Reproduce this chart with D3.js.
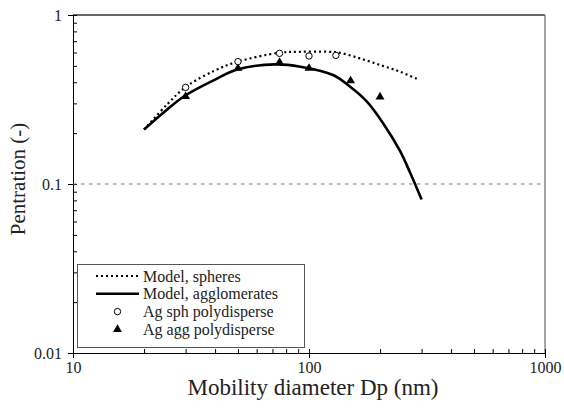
<!DOCTYPE html>
<html>
<head>
<meta charset="UTF-8">
<script src="https://d3js.org/d3.v7.min.js"></script>
<style>
  body { margin: 0; background: #fff; }
</style>
</head>
<body>
<div id="chart"></div>
<script>
// Model curves (Dp in nm, penetration)
const sphDpModel = [20, 25, 30, 40, 50, 75, 92, 120, 135, 164, 200, 243, 290];
const sphPModel  = [0.21, 0.295, 0.375, 0.47, 0.53, 0.598, 0.606, 0.606, 0.598, 0.554, 0.506, 0.462, 0.416];
const aggDpModel = [20, 25, 30, 40, 50, 72, 92, 127, 149, 176, 206, 243, 268, 300];
const aggPModel  = [0.21, 0.275, 0.335, 0.415, 0.477, 0.51, 0.494, 0.44, 0.377, 0.307, 0.229, 0.157, 0.117, 0.081];

// Measured points
const sphDp = [30, 50, 75, 100, 130];
const sphP  = [0.373, 0.53, 0.593, 0.572, 0.577];
const aggDp = [30, 50, 75, 100, 150, 200];
const aggP  = [0.33, 0.484, 0.525, 0.484, 0.408, 0.328];

const xMajor = [10, 100, 1000];
const yMajor = [0.01, 0.1, 1];
const legendLabels = ["Model, spheres", "Model, agglomerates", "Ag sph polydisperse", "Ag agg polydisperse"];

const FONT = '"Liberation Serif"';
const W = 564, H = 414;
const mLeft = 73, mRight = 545, mTop = 15, mBottom = 353;

const svg = d3.select("#chart").append("svg")
  .attr("width", W).attr("height", H);

const x = d3.scaleLog().domain([10, 1000]).range([mLeft, mRight]);
const y = d3.scaleLog().domain([0.01, 1]).range([mBottom, mTop]);

// minor ticks
const xAll = [];
[10, 100].forEach(b => { for (let i = 1; i <= 10; i++) xAll.push(b * i); });
const yAll = [];
[0.01, 0.1].forEach(b => { for (let i = 1; i <= 10; i++) yAll.push(+(b * i).toFixed(3)); });

// frame top / right
svg.append("line").attr("x1", mLeft).attr("x2", mRight).attr("y1", mTop).attr("y2", mTop)
  .attr("stroke", "#333").attr("stroke-width", 1.5);
svg.append("line").attr("x1", mRight).attr("x2", mRight).attr("y1", mTop).attr("y2", mBottom)
  .attr("stroke", "#888").attr("stroke-width", 1.5);

// x axis: outward major ticks with labels, inward all ticks
svg.append("g").attr("transform", `translate(0,${mBottom})`)
  .call(d3.axisBottom(x).tickValues(xMajor).tickSize(5).tickPadding(4).tickFormat(d3.format("d")))
  .call(g => g.selectAll("text").style("font-family", FONT).style("font-size", "16px").attr("fill", "#222"));
svg.append("g").attr("transform", `translate(0,${mBottom})`)
  .call(d3.axisTop(x).tickValues(xAll).tickSize(4).tickFormat(""))
  .select(".domain").remove();

// y axis
svg.append("g").attr("transform", `translate(${mLeft},0)`)
  .call(d3.axisLeft(y).tickValues(yMajor).tickSize(5).tickPadding(6).tickFormat(d => String(d)))
  .call(g => g.selectAll("text").style("font-family", FONT).style("font-size", "16px").attr("fill", "#222"));
svg.append("g").attr("transform", `translate(${mLeft},0)`)
  .call(d3.axisRight(y).tickValues(yAll).tickSize(4).tickFormat(""))
  .select(".domain").remove();

svg.selectAll(".domain").attr("stroke", "#000");

// reference line at 0.1
svg.append("line")
  .attr("x1", mLeft).attr("x2", mRight).attr("y1", y(0.1)).attr("y2", y(0.1))
  .attr("stroke", "#777").attr("stroke-width", 1.2).attr("stroke-dasharray", "3.5 4.5");

const line = d3.line().x(d => x(d[0])).y(d => y(d[1])).curve(d3.curveCatmullRom.alpha(0.5));

svg.append("path").datum(sphDpModel.map((d, i) => [d, sphPModel[i]]))
  .attr("d", line).attr("fill", "none").attr("stroke", "#000")
  .attr("stroke-width", 2.2).attr("stroke-dasharray", "2 3");
svg.append("path").datum(aggDpModel.map((d, i) => [d, aggPModel[i]]))
  .attr("d", line).attr("fill", "none").attr("stroke", "#000").attr("stroke-width", 2.6);

const tri = d3.symbol().type(d3.symbolTriangle).size(34);

svg.selectAll(".agg").data(aggDp.map((d, i) => [d, aggP[i]])).enter()
  .append("path").attr("class", "agg")
  .attr("transform", d => `translate(${x(d[0])},${y(d[1])})`)
  .attr("d", tri).attr("fill", "#000");

svg.selectAll(".sph").data(sphDp.map((d, i) => [d, sphP[i]])).enter()
  .append("circle").attr("class", "sph")
  .attr("cx", d => x(d[0])).attr("cy", d => y(d[1])).attr("r", 3.2)
  .attr("fill", "#fff").attr("stroke", "#000").attr("stroke-width", 1);

// legend
const lg = svg.append("g");
lg.append("rect").attr("x", 77.5).attr("y", 264.5).attr("width", 227).attr("height", 83)
  .attr("fill", "#fff").attr("stroke", "#555").attr("stroke-width", 1);
const rowY = i => 276 + i * 17.8;
lg.append("line").attr("x1", 96).attr("x2", 139).attr("y1", rowY(0)).attr("y2", rowY(0))
  .attr("stroke", "#000").attr("stroke-width", 2.2).attr("stroke-dasharray", "2 3");
lg.append("line").attr("x1", 96).attr("x2", 139).attr("y1", rowY(1)).attr("y2", rowY(1))
  .attr("stroke", "#000").attr("stroke-width", 2.6);
lg.append("circle").attr("cx", 117.5).attr("cy", rowY(2)).attr("r", 3.2)
  .attr("fill", "#fff").attr("stroke", "#000");
lg.append("path").attr("transform", `translate(117.5,${rowY(3)})`).attr("d", tri).attr("fill", "#000");
lg.selectAll(".lt").data(legendLabels).enter().append("text")
  .attr("x", 143).attr("y", (d, i) => rowY(i)).attr("dy", "0.35em")
  .style("font-family", FONT).style("font-size", "16px").attr("fill", "#222").text(d => d);

// axis titles
svg.append("text").attr("x", 313).attr("y", 395)
  .attr("text-anchor", "middle")
  .style("font-family", FONT).style("font-size", "23px").attr("fill", "#222")
  .text("Mobility diameter Dp (nm)");
svg.append("text").attr("transform", "translate(25,179) rotate(-90)")
  .attr("text-anchor", "middle")
  .style("font-family", FONT).style("font-size", "21px").attr("fill", "#222")
  .text("Pentration (-)");
</script>
</body>
</html>
